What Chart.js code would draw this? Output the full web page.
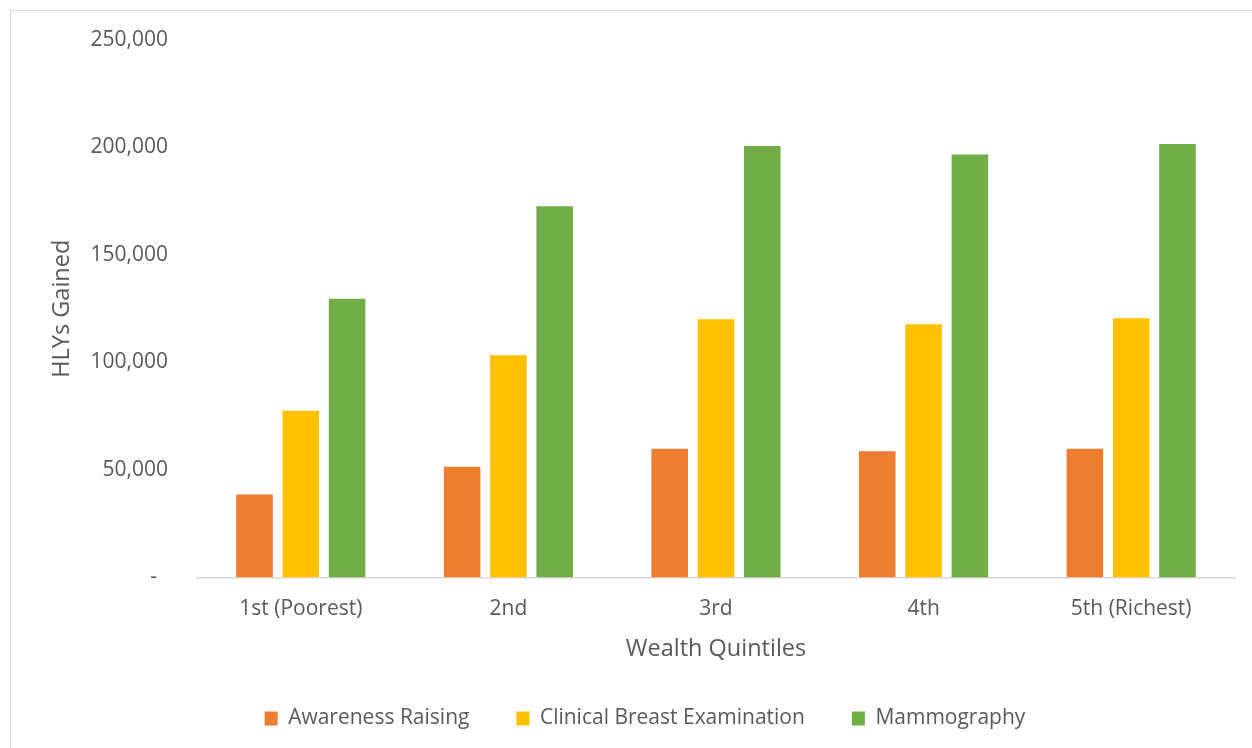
<!DOCTYPE html>
<html>
<head>
<meta charset="utf-8">
<title>HLYs Gained by Wealth Quintile</title>
<script src="https://cdn.jsdelivr.net/npm/chart.js@4.4.1/dist/chart.umd.min.js"></script>
<style>
  html, body { margin: 0; padding: 0; background: #fff; overflow: hidden; }
  #frame {
    position: absolute; left: 10px; top: 10px;
    width: 1242px; height: 738px;
    box-sizing: border-box;
    border-left: 1px solid #d9d9d9;
    border-top: 1px solid #d9d9d9;
  }
</style>
</head>
<body>
<div id="frame"><canvas id="hlyChart"></canvas></div>
<script>
// HLYs gained per wealth quintile, one series per intervention
const quintiles = ['1st (Poorest)', '2nd', '3rd', '4th', '5th (Richest)'];
const awarenessRaising = [38600, 51500, 59900, 58700, 59900];
const clinicalBreastExam = [77600, 103400, 120100, 117800, 120600];
const mammography = [129600, 172700, 200700, 196800, 201600];

const textColor = '#595959';
Chart.defaults.font.family = "'Open Sans', sans-serif";
Chart.defaults.color = textColor;

const ctx = document.getElementById('hlyChart').getContext('2d');
new Chart(ctx, {
  type: 'bar',
  data: {
    labels: quintiles,
    datasets: [
      { label: 'Awareness Raising', data: awarenessRaising, backgroundColor: '#ED7D31' },
      { label: 'Clinical Breast Examination', data: clinicalBreastExam, backgroundColor: '#FFC000' },
      { label: 'Mammography', data: mammography, backgroundColor: '#70AD47' }
    ]
  },
  options: {
    responsive: true,
    maintainAspectRatio: false,
    animation: false,
    categoryPercentage: 0.669,
    barPercentage: 0.79,
    borderWidth: 0,
    layout: { padding: { top: 29, right: 17, bottom: 9, left: 44 } },
    plugins: {
      tooltip: { enabled: false },
      legend: {
        position: 'bottom',
        labels: {
          boxWidth: 13,
          boxHeight: 14,
          padding: 47,
          font: { size: 21 },
          color: textColor
        }
      }
    },
    scales: {
      x: {
        grid: { display: false, drawTicks: false },
        border: { color: '#d9d9d9', width: 1.5 },
        ticks: { font: { size: 21 }, padding: 19, color: textColor },
        title: {
          display: true,
          text: 'Wealth Quintiles',
          font: { size: 23.5 },
          color: textColor,
          padding: { top: 0, bottom: -2 }
        },
        afterFit: (scale) => { scale.height = 83.5; }
      },
      y: {
        min: 0,
        max: 250000,
        // hidden tick marks keep the labels clear of the plot without
        // inflating the scale's top padding
        grid: { display: false, drawTicks: true, tickLength: 13 },
        border: { display: false },
        ticks: {
          stepSize: 50000,
          padding: 16,
          font: { size: 21 },
          color: textColor,
          callback: (v) => v === 0 ? '-  ' : v.toLocaleString('en-US')
        },
        title: {
          display: true,
          text: 'HLYs Gained',
          font: { size: 23.5 },
          color: textColor,
          padding: { top: -7, bottom: 0 }
        },
        afterFit: (scale) => { scale.width = 142; }
      }
    }
  }
});
</script>
</body>
</html>
